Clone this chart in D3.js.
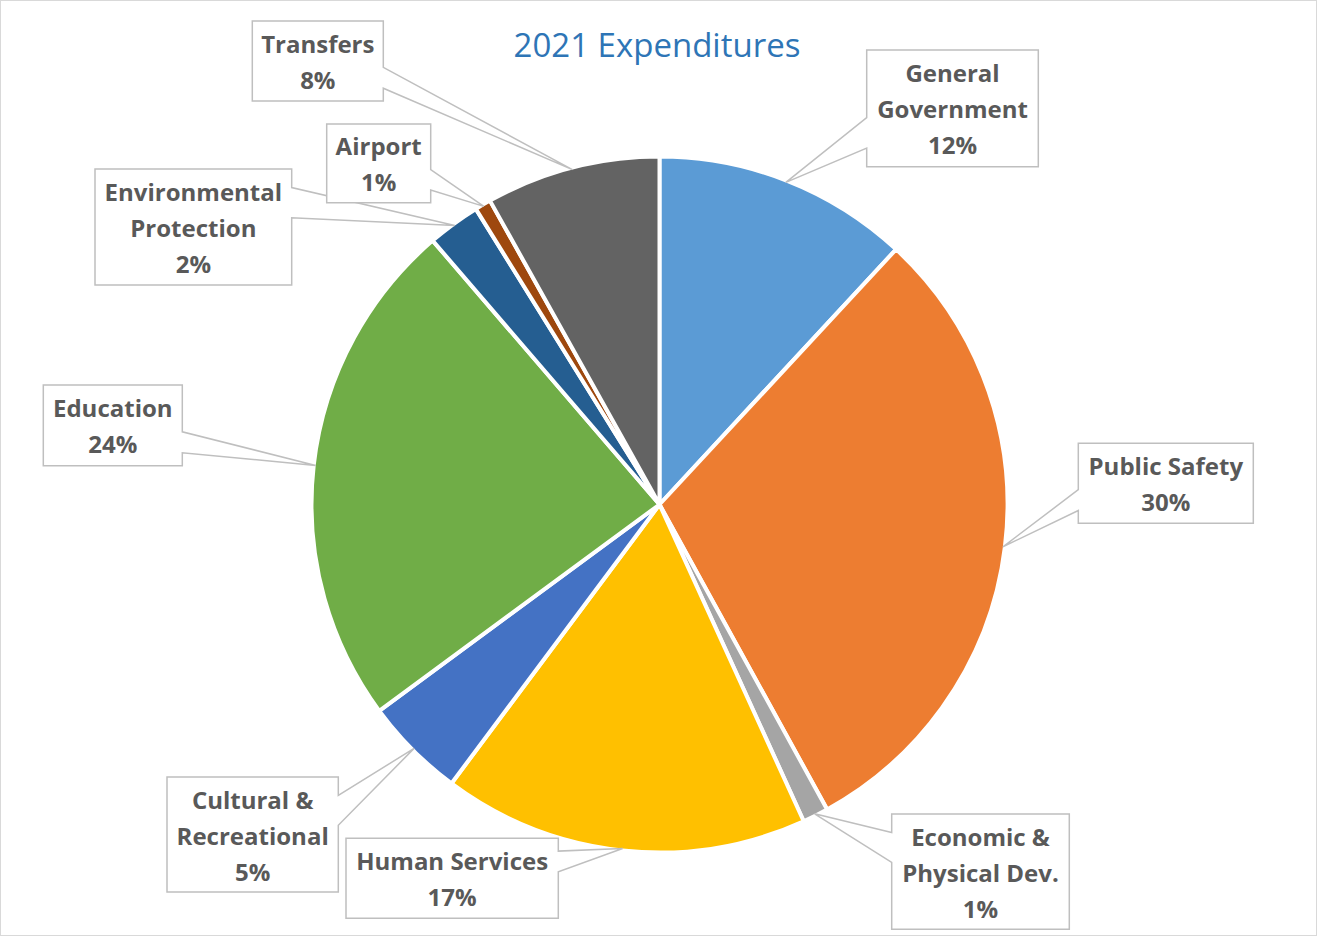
<!DOCTYPE html>
<html>
<head>
<meta charset="utf-8">
<script src="https://cdn.jsdelivr.net/npm/d3@7"></script>
<style>
  html, body { margin: 0; padding: 0; background: #ffffff; }
  svg { display: block; }
</style>
</head>
<body>
<svg id="chart" width="1317" height="936"></svg>
<script>
// ---- data ----
const title = "2021 Expenditures";
const categories = ["General Government", "Public Safety", "Economic & Physical Dev.", "Human Services",
  "Cultural & Recreational", "Education", "Environmental Protection", "Airport", "Transfers"];
const values = [11.9, 30.1, 1.2, 17.0, 4.7, 23.8, 2.45, 0.75, 8.1];
const percentLabels = ["12%", "30%", "1%", "17%", "5%", "24%", "2%", "1%", "8%"];
const labelLines = [["General", "Government"], ["Public Safety"], ["Economic &", "Physical Dev."],
  ["Human Services"], ["Cultural &", "Recreational"], ["Education"], ["Environmental", "Protection"],
  ["Airport"], ["Transfers"]];
const colors = ["#5b9bd5", "#ed7d31", "#a5a5a5", "#ffc000", "#4472c4", "#70ad47", "#255e91", "#9e480e", "#636363"];

// ---- label box layout (x, y, w, h) ----
const boxLayout = [
  [866.7, 50, 171.6, 116.7],
  [1078.3, 443.3, 175, 80],
  [891.7, 814, 177.6, 115.3],
  [346, 838.3, 212.3, 80],
  [167, 777, 171.3, 115],
  [43.3, 385, 139, 80.7],
  [95, 169, 196.7, 116],
  [326.7, 124, 104, 78.7],
  [252.3, 21, 131, 80]
];

const W = 1317, H = 936;
const cx = 659.5, cy = 504.5, R = 348;
const svg = d3.select("#chart");

// chart border
svg.append("rect").attr("x", 0.5).attr("y", 0.5).attr("width", W - 1).attr("height", H - 1)
  .attr("fill", "#ffffff").attr("stroke", "#d9d9d9").attr("stroke-width", 1);

// title
svg.append("text").attr("x", 657).attr("y", 57).attr("text-anchor", "middle")
  .attr("font-family", "'Open Sans', sans-serif").attr("font-size", 33)
  .attr("fill", "#2e75b6").text(title);

const data = categories.map((c, i) => ({ name: c, value: values[i], pct: percentLabels[i], lines: labelLines[i], color: colors[i], box: boxLayout[i] }));

const pie = d3.pie().sort(null).value(d => d.value);
const arcs = pie(data);
const arc = d3.arc().innerRadius(0).outerRadius(R);
const edgeArc = d3.arc().innerRadius(R - 2).outerRadius(R - 2);

const g = svg.append("g").attr("transform", `translate(${cx},${cy})`);
g.selectAll("path.slice").data(arcs).join("path")
  .attr("class", "slice")
  .attr("d", arc)
  .attr("fill", d => d.data.color)
  .attr("stroke", "#ffffff")
  .attr("stroke-width", 4)
  .attr("stroke-linejoin", "round");

// callouts
const labels = svg.append("g");
arcs.forEach(a => {
  const [bx, by, bw, bh] = a.data.box;
  const c = edgeArc.centroid(a);
  const tx = cx + c[0], ty = cy + c[1];
  const bcy = by + bh / 2;
  let b1, b2;
  if (ty > bcy) { b1 = bcy + 0.08 * bh; b2 = bcy + 0.34 * bh; }
  else { b1 = bcy - 0.34 * bh; b2 = bcy - 0.08 * bh; }
  const p = d3.path();
  const right = bx + bw, bottom = by + bh;
  if (tx > right) {
    p.moveTo(bx, by); p.lineTo(right, by); p.lineTo(right, b1); p.lineTo(tx, ty);
    p.lineTo(right, b2); p.lineTo(right, bottom); p.lineTo(bx, bottom); p.closePath();
  } else {
    p.moveTo(bx, by); p.lineTo(right, by); p.lineTo(right, bottom); p.lineTo(bx, bottom);
    p.lineTo(bx, b2); p.lineTo(tx, ty); p.lineTo(bx, b1); p.closePath();
  }
  labels.append("path").attr("d", p.toString())
    .attr("fill", "#ffffff").attr("stroke", "#bfbfbf").attr("stroke-width", 1.5)
    .attr("stroke-linejoin", "miter");
  const lines = a.data.lines.concat([a.data.pct]);
  const n = lines.length;
  const t = labels.append("text")
    .attr("text-anchor", "middle")
    .attr("font-family", "'Open Sans', sans-serif")
    .attr("font-weight", "bold").attr("font-size", 24).attr("fill", "#595959");
  lines.forEach((ln, i) => {
    t.append("tspan").attr("x", bx + bw / 2)
      .attr("y", bcy + (i - (n - 1) / 2) * 36 + 10)
      .text(ln);
  });
});
</script>
</body>
</html>
